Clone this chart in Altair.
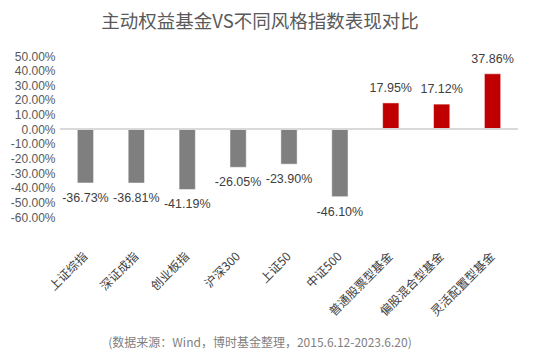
import altair as alt
import pandas as pd

categories = ["上证综指", "深证成指", "创业板指", "沪深300", "上证50", "中证500",
              "普通股票型基金", "偏股混合型基金", "灵活配置型基金"]
values = [-36.73, -36.81, -41.19, -26.05, -23.90, -46.10, 17.95, 17.12, 37.86]
groups = ["指数"] * 6 + ["基金"] * 3
y_ticks = [-60, -50, -40, -30, -20, -10, 0, 10, 20, 30, 40, 50]
title_text = "主动权益基金VS不同风格指数表现对比"
source_text = "(数据来源：Wind，博时基金整理，2015.6.12-2023.6.20)"

FONT = "Noto Sans CJK SC"
NUM_FONT = "Liberation Sans"

df = pd.DataFrame({"cat": categories, "value": values, "group": groups})
df["label"] = [f"{v:.2f}%" for v in values]

W, H = 458, 161

x_axis = alt.Axis(labelAngle=-45, labelPadding=37, labelBaseline="middle",
                  labelAlign="right", ticks=False, domain=False,
                  labelFontSize=12, labelColor="#404040", labelFont=FONT,
                  labelOverlap=False)
y_axis = alt.Axis(values=y_ticks, ticks=False, domain=False, grid=False,
                  labelPadding=5, labelFontSize=12, labelColor="#595959",
                  labelFont=NUM_FONT, labelOverlap=False, labelBound=False,
                  labelExpr="(datum.value < 0 ? '-' : '') + format(abs(datum.value), '.2f') + '%'")
x_enc = alt.X("cat:N", sort=categories, title=None,
              scale=alt.Scale(paddingInner=0.68, paddingOuter=0.34), axis=x_axis)
y_scale = alt.Scale(domain=[-60, 50], nice=False, zero=False)
y_enc = alt.Y("value:Q", scale=y_scale, title=None, axis=y_axis)

base = alt.Chart(df)

bars = base.mark_bar(strokeWidth=0.5, stroke="#ffffff").encode(
    x=x_enc, y=y_enc,
    color=alt.Color("group:N", scale=alt.Scale(domain=["指数", "基金"],
                                               range=["#7f7f7f", "#c00000"]), legend=None))

zero_rule = alt.Chart(df).mark_rule(color="#d9d9d9", strokeWidth=1).encode(
    y=alt.Y(datum=0, scale=y_scale, axis=y_axis, title=None))

neg_labels = base.transform_filter("datum.value < 0").mark_text(
    dy=15, fontSize=12.5, color="#404040", font=NUM_FONT, baseline="middle").encode(
    x=x_enc, y=y_enc, text="label:N")
pos_labels = base.transform_filter("datum.value >= 0").mark_text(
    dy=-15, fontSize=12.5, color="#404040", font=NUM_FONT, baseline="middle").encode(
    x=x_enc, y=y_enc, text="label:N")

ttl = alt.Chart(pd.DataFrame({"t": [title_text]})).mark_text(
    fontSize=18.5, color="#595959", font=FONT, baseline="middle", align="center").encode(
    text="t:N", x=alt.value(200), y=alt.value(-34))

src = alt.Chart(pd.DataFrame({"t": [source_text]})).mark_text(
    fontSize=12, color="#7f7f7f", font=FONT, baseline="middle", align="center").encode(
    text="t:N", x=alt.value(200), y=alt.value(287))

chart = alt.layer(bars, zero_rule, neg_labels, pos_labels, ttl, src).properties(
    width=W, height=H,
    autosize=alt.AutoSizeParams(type="none"),
    padding={"left": 52, "top": 48, "right": 20, "bottom": 134},
).configure_view(stroke=None)

chart.save("out.html", embed_options={"renderer": "svg", "actions": False})
